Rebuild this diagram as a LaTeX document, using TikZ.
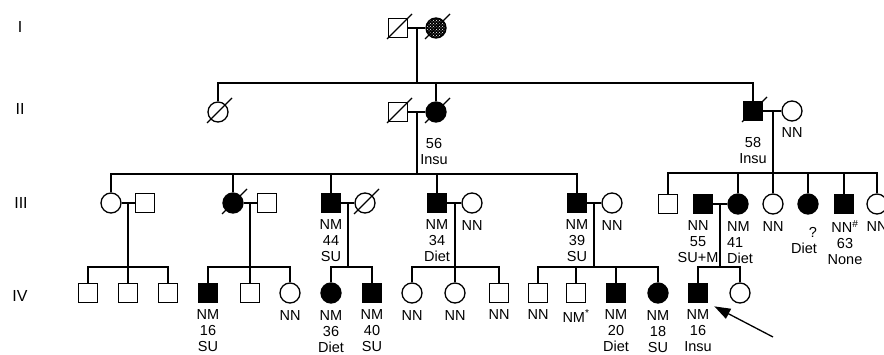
\documentclass[tikz,border=0pt]{standalone}
\usepackage{fontspec}
\setmainfont{Liberation Sans}
\usetikzlibrary{positioning, patterns, arrows.meta}

\begin{document}
\begin{tikzpicture}[x=1pt, y=-1pt, line width=1.3pt,
    male/.style={draw, rectangle, minimum size=19pt, inner sep=0pt},
    female/.style={draw, circle, minimum size=20pt, inner sep=0pt},
    ill/.style={fill=black},
    txt/.style={align=center, inner sep=0pt, font=\fontsize{14.5}{16}\selectfont},
    gen/.style={inner sep=0pt, font=\fontsize{16}{16}\selectfont}]
  \useasboundingbox (0,0) rectangle (884,355);

  % generations
  \node [gen] (gI) at (20, 27) {I};
  \node [gen] (gII) at (20, 109) {II};
  \node [gen] (gIII) at (21, 203) {III};
  \node [gen] (gIV) at (20, 296) {IV};

  % I
  \node [male] (i1) at (398, 28) {};
  \node [female, preaction={fill=black}, pattern=crosshatch dots, pattern color=white] (i2) at (436, 28) {};

  % II
  \node [female] (ii1) at (218, 112) {};
  \node [male] (ii2) at (398, 112) {};
  \node [female, ill] (ii3) at (436, 112) {};
  \node [male, ill] (ii4) at (753, 111) {};
  \node [female] (ii5) at (792, 111) {};
  \node [txt, below=15pt of ii3, xshift=-2pt] (ii3t) {56\\Insu};
  \node [txt, below=16pt of ii4] (ii4t) {58\\Insu};
  \node [txt, below=5pt of ii5] (ii5t) {NN};

  % III
  \node [female] (iii1) at (111, 203) {};
  \node [male] (iii2) at (145, 203) {};
  \node [female, ill] (iii3) at (233, 203) {};
  \node [male] (iii4) at (267, 203) {};
  \node [male, ill] (iii5) at (331, 203) {};
  \node [female] (iii6) at (365, 203) {};
  \node [male, ill] (iii7) at (437, 203) {};
  \node [female] (iii8) at (472, 203) {};
  \node [male, ill] (iii9) at (577, 203) {};
  \node [female] (iii10) at (612, 203) {};
  \node [male] (iii11) at (668, 204) {};
  \node [male, ill] (iii12) at (703, 204) {};
  \node [female, ill] (iii13) at (738, 204) {};
  \node [female] (iii14) at (773, 204) {};
  \node [female, ill] (iii15) at (808, 204) {};
  \node [male, ill] (iii16) at (844, 204) {};
  \node [female] (iii17) at (877, 204) {};
  \node [txt, below=6pt of iii5] (iii5t) {NM\\44\\SU};
  \node [txt, below=6pt of iii7] (iii7t) {NM\\34\\Diet};
  \node [txt, below=6pt of iii8] (iii8t) {NN};
  \node [txt, below=6pt of iii9] (iii9t) {NM\\39\\SU};
  \node [txt, below=6pt of iii10] (iii10t) {NN};
  \node [txt, below=6pt of iii12, xshift=-5pt] (iii12t) {NN\\55\\SU+M};
  \node [txt, align=left, below=6pt of iii13, xshift=2pt] (iii13t) {NM\\41\\Diet};
  \node [txt, below=6pt of iii14] (iii14t) {NN};
  \node [txt, align=right, below=6pt of iii15, xshift=-4pt] (iii15t) {\\?\\Diet};
  \node [txt, below=6pt of iii16, xshift=1pt] (iii16t) {NN\textsuperscript{\#}\\63\\None};
  \node [txt, below=6pt of iii17] (iii17t) {NN};

  % IV
  \node [male] (iv1) at (88, 293) {};
  \node [male] (iv2) at (128, 293) {};
  \node [male] (iv3) at (168, 293) {};
  \node [male, ill] (iv4) at (208, 293) {};
  \node [male] (iv5) at (250, 293) {};
  \node [female] (iv6) at (290, 293) {};
  \node [female, ill] (iv7) at (331, 293) {};
  \node [male, ill] (iv8) at (372, 293) {};
  \node [female] (iv9) at (412, 293) {};
  \node [female] (iv10) at (455, 293) {};
  \node [male] (iv11) at (499, 293) {};
  \node [male] (iv12) at (538, 293) {};
  \node [male] (iv13) at (576, 293) {};
  \node [male, ill] (iv14) at (616, 293) {};
  \node [female, ill] (iv15) at (658, 293) {};
  \node [male, ill] (iv16) at (698, 293) {};
  \node [female] (iv17) at (740, 293) {};
  \node [txt, below=6pt of iv4] (iv4t) {NM\\16\\SU};
  \node [txt, below=6pt of iv6] (iv6t) {NN};
  \node [txt, below=6pt of iv7] (iv7t) {NM\\36\\Diet};
  \node [txt, below=6pt of iv8] (iv8t) {NM\\40\\SU};
  \node [txt, below=6pt of iv9] (iv9t) {NN};
  \node [txt, below=6pt of iv10] (iv10t) {NN};
  \node [txt, below=6pt of iv11] (iv11t) {NN};
  \node [txt, below=6pt of iv12] (iv12t) {NN};
  \node [txt, below=6pt of iv13] (iv13t) {NM\textsuperscript{*}};
  \node [txt, below=6pt of iv14] (iv14t) {NM\\20\\Diet};
  \node [txt, below=6pt of iv15] (iv15t) {NM\\18\\SU};
  \node [txt, below=6pt of iv16] (iv16t) {NM\\16\\Insu};

  % deceased
  \draw (i1.center) ++(-11, 11) -- ++(25, -25);
  \draw (i2.center) ++(-11, 11) -- ++(25, -25);
  \draw (ii1.center) ++(-11, 11) -- ++(25, -25);
  \draw (ii2.center) ++(-11, 11) -- ++(25, -25);
  \draw (ii3.center) ++(-11, 11) -- ++(25, -25);
  \draw (ii4.center) ++(-11, 11) -- ++(25, -25);
  \draw (iii3.center) ++(-11, 11) -- ++(25, -25);
  \draw (iii6.center) ++(-11, 11) -- ++(25, -25);

  % couples
  \draw (i1) -- (i2);
  \draw (ii2) -- (ii3);
  \draw (ii4) -- (ii5);
  \draw (iii1) -- (iii2);
  \draw (iii3) -- (iii4);
  \draw (iii5) -- (iii6);
  \draw (iii7) -- (iii8);
  \draw (iii9) -- (iii10);
  \draw (iii12) -- (iii13);

  % sibships
  \coordinate (s1) at (417, 83);
  \draw (s1) -- (s1 |- i1);
  \draw (ii1) |- (s1) -| (ii4);
  \draw (ii3) -- (ii3 |- s1);

  \coordinate (s2) at (417, 174);
  \draw (s2) -- (s2 |- ii2);
  \draw (iii1) |- (s2) -| (iii9);
  \draw (iii3) -- (iii3 |- s2);
  \draw (iii5) -- (iii5 |- s2);
  \draw (iii7) -- (iii7 |- s2);

  \coordinate (s3) at (773, 173);
  \draw (s3) -- (s3 |- ii4);
  \draw (iii11) |- (s3) -| (iii17);
  \draw (iii13) -- (iii13 |- s3);
  \draw (iii14) -- (iii14 |- s3);
  \draw (iii15) -- (iii15 |- s3);
  \draw (iii16) -- (iii16 |- s3);

  \coordinate (f1) at (128, 267);
  \draw (f1) -- (f1 |- iii1);
  \draw (iv1) |- (f1) -| (iv3);
  \draw (iv2) -- (f1);

  \coordinate (f2) at (250, 267);
  \draw (f2) -- (f2 |- iii3);
  \draw (iv4) |- (f2) -| (iv6);
  \draw (iv5) -- (f2);

  \coordinate (f3) at (348, 267);
  \draw (f3) -- (f3 |- iii5);
  \draw (iv7) |- (f3) -| (iv8);

  \coordinate (f4) at (455, 267);
  \draw (f4) -- (f4 |- iii7);
  \draw (iv9) |- (f4) -| (iv11);
  \draw (iv10) -- (f4);

  \coordinate (f5) at (594, 267);
  \draw (f5) -- (f5 |- iii9);
  \draw (iv12) |- (f5) -| (iv15);
  \draw (iv13) -- (iv13 |- f5);
  \draw (iv14) -- (iv14 |- f5);

  \coordinate (f6) at (720, 267);
  \draw (f6) -- (f6 |- iii12);
  \draw (iv16) |- (f6) -| (iv17);

  % proband
  \coordinate (arr) at (773, 337);
  \draw [-{Triangle[length=16pt, width=11pt]}, shorten >=7pt] (arr) -- (iv16.south east);
\end{tikzpicture}
\end{document}
